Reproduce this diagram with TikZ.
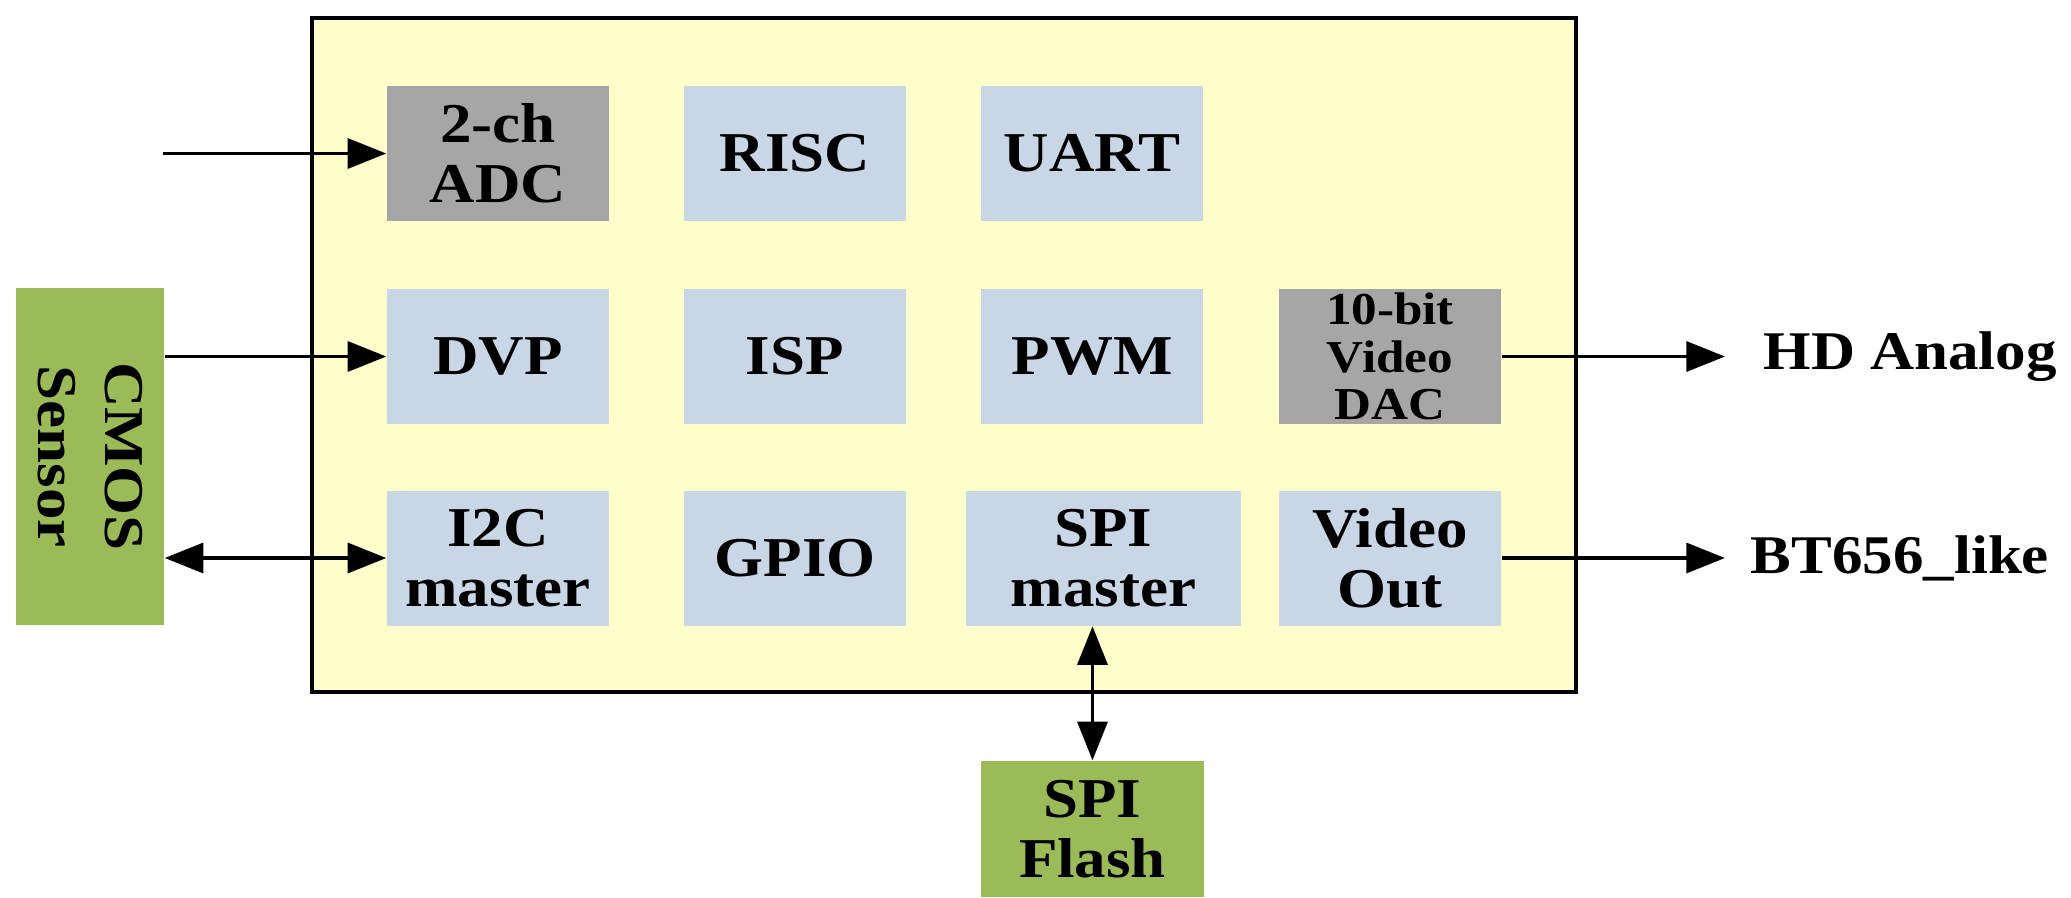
\documentclass[tikz,border=0pt]{standalone}
\usepackage{fontspec}
\setmainfont{Liberation Serif}[BoldFont={Liberation Serif Bold}, FakeStretch=1.12]
\usetikzlibrary{arrows.meta}
\definecolor{chipy}{HTML}{FFFFCC}
\definecolor{blk}{HTML}{C8D6E6}
\definecolor{gry}{HTML}{A6A6A6}
\definecolor{grn}{HTML}{9BBB59}
\tikzset{
  blockbox/.style={minimum width=2.22cm, minimum height=1.35cm, inner sep=0pt, align=center,
    font=\bfseries\fontsize{16}{17}\selectfont},
  bluebox/.style={blockbox, fill=blk},
  graybox/.style={blockbox, fill=gry},
  greenbox/.style={blockbox, fill=grn},
  conn/.style={line width=1.1pt, -{Triangle[length=11pt,width=8.5pt]}},
  biconn/.style={line width=1.1pt, {Triangle[length=11pt,width=8.5pt]}-{Triangle[length=11pt,width=8.5pt]}},
  outlabel/.style={anchor=west, inner sep=0pt, font=\bfseries\fontsize{15.5}{17}\selectfont}
}
\begin{document}
\begin{tikzpicture}
\useasboundingbox (0,0) rectangle (20.71,-8.97);
\node[draw=black, line width=1pt, fill=chipy, minimum width=12.64cm, minimum height=6.74cm, inner sep=0pt] (chip) at (9.44,-3.55) {};
% row 1
\node[graybox] (adc) at (4.98,-1.535) {2-ch\\ADC};
\node[bluebox] (risc) at (7.95,-1.535) {RISC};
\node[bluebox] (uart) at (10.92,-1.535) {UART};
% row 2
\node[bluebox] (dvp) at (4.98,-3.565) {DVP};
\node[bluebox] (isp) at (7.95,-3.565) {ISP};
\node[bluebox] (pwm) at (10.92,-3.565) {PWM};
\node[graybox, font=\bfseries\fontsize{13}{13.5}\selectfont] (dac) at (13.90,-3.565) {10-bit\\Video\\DAC};
% row 3
\node[bluebox] (i2c) at (4.98,-5.58) {I2C\\master};
\node[bluebox] (gpio) at (7.95,-5.58) {GPIO};
\node[bluebox, minimum width=2.75cm] (spim) at (11.035,-5.58) {SPI\\master};
\node[bluebox] (vout) at (13.90,-5.58) {Video\\Out};
% external
\node[greenbox, minimum width=3.37cm, minimum height=1.48cm, rotate=-90, font=\bfseries\fontsize{16}{19}\selectfont] (cmos) at (0.90,-4.565) {CMOS\\Sensor};
\node[greenbox, minimum width=2.23cm, minimum height=1.36cm] (flash) at (10.925,-8.29) {SPI\\Flash};
\coordinate (adcin) at (1.63,-1.535);
\coordinate (hdend) at (17.25,-3.565);
\coordinate (btend) at (17.25,-5.58);
\node[outlabel] (hd) at (17.63,-3.565) {HD Analog};
\node[outlabel] (bt) at (17.50,-5.58) {BT656\_like};
% connectors
\draw[conn] (adcin) -- (adc.west);
\draw[conn] (cmos.north |- dvp.west) -- (dvp.west);
\draw[biconn] (cmos.north |- i2c.west) -- (i2c.west);
\draw[conn] (dac.east) -- (hdend);
\draw[conn] (vout.east) -- (btend);
\draw[biconn] (flash.north) -- (flash.north |- spim.south);
\end{tikzpicture}
\end{document}
